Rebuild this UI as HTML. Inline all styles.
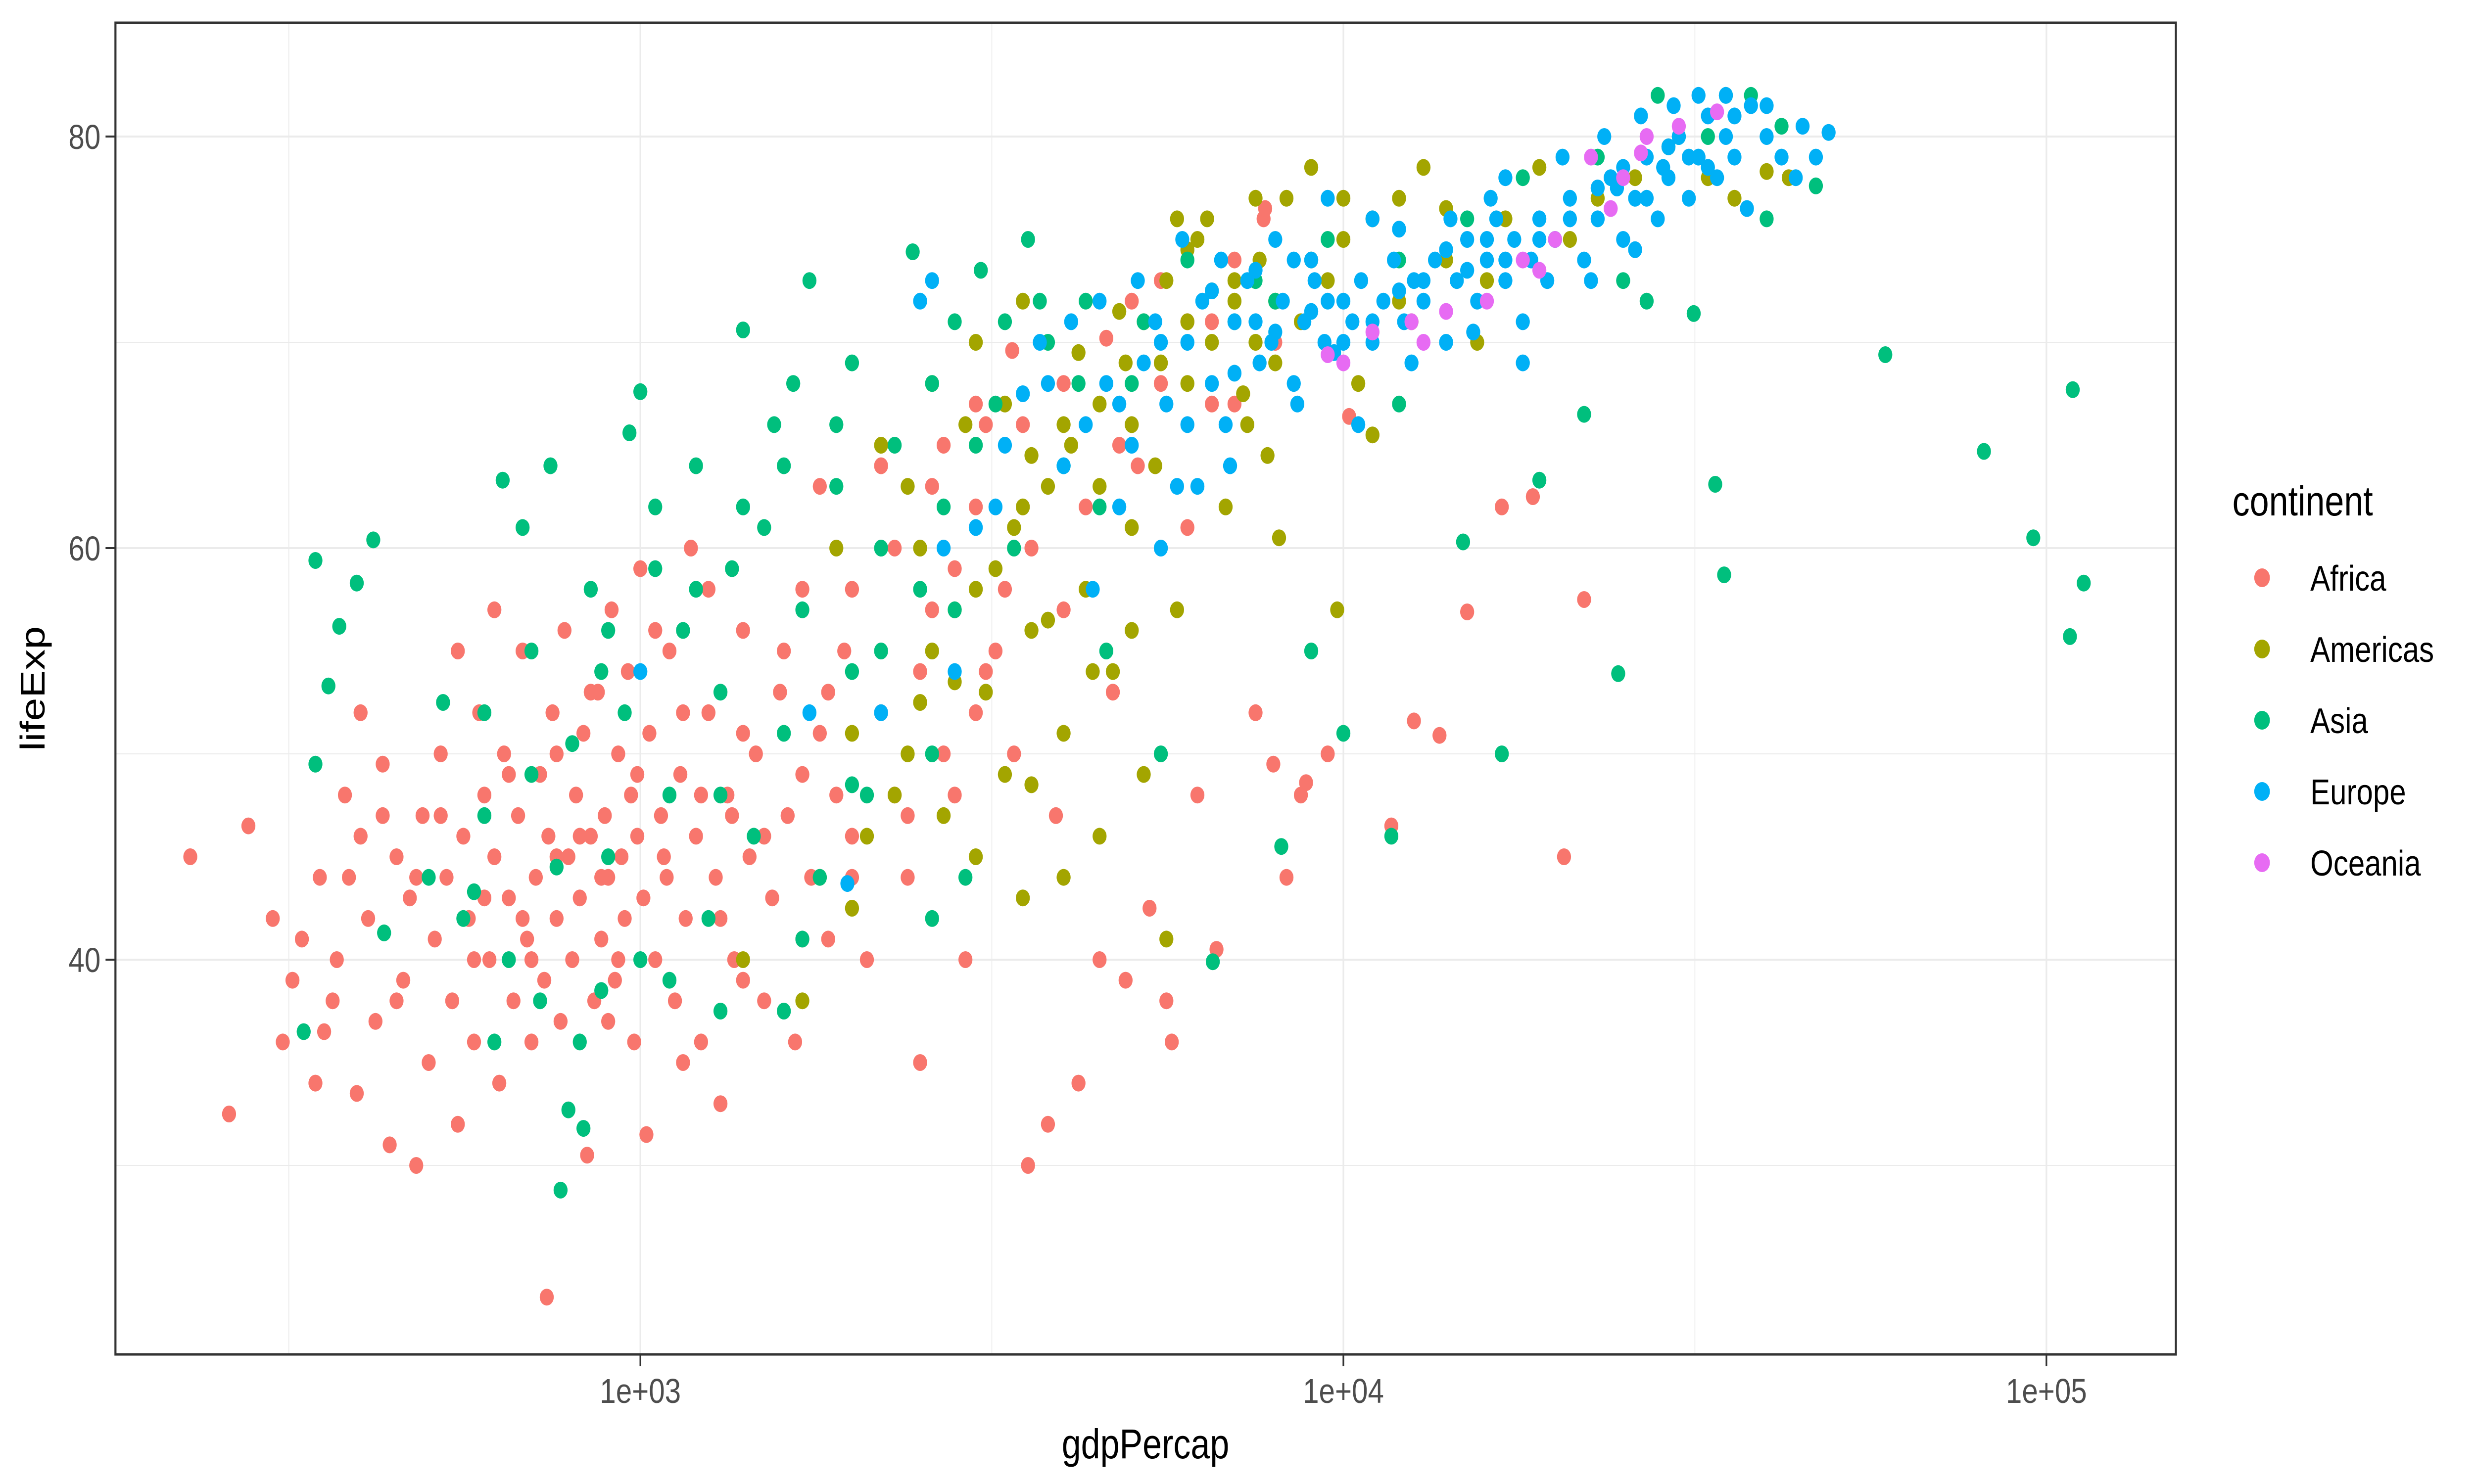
<!DOCTYPE html>
<html><head><meta charset="utf-8"><style>
html,body{margin:0;padding:0;background:#fff;overflow:hidden;width:100%;height:100%;}
svg{display:block;width:100vw;height:100vh;font-family:"Liberation Sans",Arial,sans-serif;}
</style></head><body>
<svg id="chart" viewBox="0 0 6000 3000" preserveAspectRatio="none" xmlns="http://www.w3.org/2000/svg">
<rect x="0" y="0" width="6000" height="3000" fill="#fff"/>
<g id="grid"></g>
<g id="points"></g>
<rect x="280" y="46" width="4997" height="2692" fill="none" stroke="#333" stroke-width="5"/>
<g id="axes"></g>
<text x="2778" y="2948" font-size="84" text-anchor="middle" fill="#000">gdpPercap</text>
<text transform="translate(108,1392) rotate(-90)" font-size="84" text-anchor="middle" fill="#000">lifeExp</text>
<g>
<text x="5414" y="1042" font-size="84" fill="#000">continent</text>
<g id="legendItems"></g>
</g>
</svg>
<script>
const continents = ["Africa","Americas","Asia","Europe","Oceania"];
const colors = ["#F8766D","#A3A500","#00BF7D","#00B0F6","#E76BF3"];
const xTicks = [1000,10000,100000];
const xTickLabels = ["1e+03","1e+04","1e+05"];
const xMinor = [316.2,3162,31623];
const yTicks = [40,60,80];
const yMinor = [30,50,70];

const africaGdp = [229,277,260,300,310,320,330,345,350,355,365,370,380,385,395,400,410,420,430,440,450,460,470,480,490,500,510,520,530,540,550,560,570,580,590,600,610,620,630,640,650,660,670,680,690,700,710,720,730,736,740,750,760,770,780,790,800,810,820,830,840,850,860,870,880,890,900,910,920,930,940,950,960,970,980,990,1000,1010,1020,1030,1050,1070,1090,1100,1120,1140,1160,1180,1200,1220,1250,1280,1300,1330,1360,1400,1430,1460,1500,1540,1580,1620,1660,1700,1750,1800,1850,1900,1950,2000,2100,2200,2300,2400,2500,2600,2700,2800,2900,3000,3100,3300,3500,3560,3800,3900,4200,4300,4500,4700,4900,5100,5300,5600,5700,6000,6200,6600,7000,7500,7700,8000,8300,8700,9500,10190,11700,12600,13700,15000,16800,18600,22000,20600,8850,7950,3380,4600,5000,5500,6000,7740,7000,6500,4000,3000,2700,2200,1800,
450,520,600,650,700,760,820,880,930,990,1080,1150,1220,1300,1400,1500,1600,1700,1850,2000,2300,2500,2800,3200,3600,4000,400,550,620,850,1050,1250,1350,760,680,580,480,430,900,1150,1400,1700,2000,2400,3000,3400,2600,3100,4800,5500,6500];
const africaLife = [45,46.5,32.5,42,36,39,41,34,44,36.5,38,40,48,44,33.5,46,42,37,49.5,31,45,39,43,30,47,35,41,50,44,38,32,46,42,36,52,48,40,45,34,50,43,38,47,55,41,36,44,49,39,23.6,46,52,42,37,56,45,40,48,43,51,30.5,46,38,53,41,47,44,57,39,50,45,42,54,48,36,46,59,43,31.5,51,40,47,44,55,38,49,42,60,46,36,52,44,33,48,40,56,45,50,38,43,53,47,36,58,44,51,41,48,55,46,40,52,60,44,35,57,50,48,40,62,54,58,66,30,32,47,34,62,40,53,39,64,42.5,38,36,61,48,40.5,67,52,76,70,44,48,50,66.4,46.5,51.6,50.9,56.9,62,62.5,57.5,45,48.6,49.5,69.6,70.2,72,73,71,76.5,74,67,68,67,65,64,63,
38,47,43,49,40,50,46,44,40,49,45,52,48,42,51,46,55,49,53,58,48,54,59,55,60,57,52,55,57,53,56,58,47,45,42,40,44,47,37,35,39,41,44,47,52,50,63,66,65,68,71];

const americasGdp = [1400,1700,1800,2000,2100,2300,2400,2500,2600,2700,2800,3000,3100,3200,3300,3400,3500,3600,3800,4000,4100,4300,4500,4700,4900,5000,5200,5400,5600,5800,6000,6200,6500,6800,7000,7300,7600,8000,8300,8700,9000,9500,10000,10500,11000,12000,13000,14000,15500,17000,19000,21000,23000,26000,29000,33000,36000,40000,43000,2200,2600,3000,3500,1900,2400,4500,5200,4000,3800,6000,7800,9800,8100,11000,5600,7200,2900,3600,4800,6400,12500,16000,
3000,3500,4000,4500,5000,5500,6000,6500,7000,7500,8000,9000,10000,12000,14000,2500,3300,4200,5800,7500,2000,2800,3600,4400,5000];
const americasLife = [40,38,44,42.5,46,48,50,52.5,55,47,57,45,53,59,49,61,43,56,63,51,65,58,67,54,69,61,71,64,73,57,68,75,70,62,72,66,74,69,77,71,78.5,73,75,68,76,72,78.5,74,70,76,78.5,75,77,78,79.5,78,77,78.3,78,65,68,70,72,60,63,46,49,44,56.5,74.5,64.5,57,60.5,65.5,41,67.5,66,64.5,71.5,76,71,73,
58,62,66,63,66,69,71,72.5,73,70,72,74,77,77,76.5,60,67,69.5,76,77,51,53.5,48.5,54,56];

const asiaGdp = [345,417,360,373,345,332,395,432,524,580,637,745,770,790,830,880,965,1000,600,650,700,720,760,800,820,850,900,950,1050,1100,1150,1200,1250,1300,1350,1400,1450,1500,1550,1600,1650,1700,1740,1800,1900,2000,2100,2200,2300,2440,2500,2600,2700,2800,2900,3050,3200,3400,3560,3800,4000,4300,4600,5000,5500,6000,6520,7000,8000,8160,9000,10000,11700,12000,14800,16800,19000,22000,24600,27000,31500,33800,34800,40000,47000,59000,81500,95800,109000,108000,113000,20000,25000,30000,35000,28000,38000,1000,560,620,680,880,1100,1300,1700,1600,2000,2600,
1200,1400,1600,1900,2200,2600,3000,3300,3700,4200,900,1050,700,600,500,1300,2000,2800,4500,5200,7500,9500,12000,15000,18000,23000,33000,42000];
const asiaLife = [59.4,60.4,53.3,56.2,49.5,36.5,58.3,41.3,52.5,43.3,63.3,64,28.8,32.7,31.8,38.5,65.6,67.6,47,40,55,38,44.5,50.5,36,58,45,52,62,48,56,64,42,53,59,70.6,46,61,66,51,68,57,73,44,63,69,48,55,65,74.4,58,50,62,71,44,73.5,67,60,75,70,64,72,55,68,50,74,39.9,71,72,45.5,55,51,46,67,60.3,50,63.3,66.5,53.9,72,71.4,63.1,58.7,76,77.6,69.4,64.7,60.5,67.7,55.7,58.3,75,73,80,82,82,82,40,42,36,61,54,39,37.5,41,37.5,48.5,42,
58,62,64,66,60,68,65,71,72,68,56,59,49,52,44,48,54,57,62,71,73,75,74,76,78,79,80,80.5];

const europeGdp = [4000,4300,4600,4800,5000,5200,5400,5600,5800,6000,6300,6500,6800,7000,7300,7600,7900,8200,8500,8800,9100,9400,9700,10000,10300,10600,11000,11400,11800,12200,12600,13000,13500,14000,14500,15000,15500,16000,16500,17000,17500,18000,18500,19000,19500,20000,21000,22000,23000,24000,25000,26000,27000,28000,29000,30000,31000,32000,33000,34000,35000,36000,38000,40000,42000,45000,49000,3000,3300,3500,2500,2600,2200,1970,1740,1000,2700,3200,3700,4100,4500,5100,5900,6700,7500,8000,9000,9500,12000,14200,16200,20500,23500,26500,29500,32000,18000,12500,8600,6900,5500,4400,2800,10500,15300,22500,26000,37500,44000,47000,17000,24500,28500,35000,11000,6200,
7000,8000,9000,10000,11000,12000,13000,14000,15000,16000,17000,19000,21000,23000,25000,27000,29000,31000,33000,36000,40000,5500,6500,7500,8500,9500,6000,4800,3800];
const europeLife = [64,66,68,62,65,69,71,67,63,70,72,68,66,71,73,69,70,72,68,71,73,70,69.5,72,71,73,70,72,74,71,73,72,74,70,73,75,72,74,76,73,75,71,74,76,73,75,77,74,76,78,75,77,79,76,78,80,77,79,81,78,80,79,81.5,80,79,80.5,80.2,61,65,67.5,72,73,52,43.7,52,54,60,62,70,71,72,73,75,74,71,75,74,77,75.5,76,77,79,80,81,81.5,82,69,69,67,64,60,58,54,66,70.5,73,74.5,76.5,78,79,78,77.5,78.5,82,76,63,
68.5,70.5,71.5,70,71,72.5,73,74.5,73.5,75,74,75,76,77.5,78.5,77,79.5,79,78.5,81,81.5,70,72.5,73.5,74,72,66,67,68];

const oceaniaGdp = [10000,11000,12500,14000,16000,18000,20000,22500,25000,27000,30000,34000,9500,13000,19000,24000,26500];
const oceaniaLife = [69,70.5,71,71.5,72,74,75,79,78,80,80.5,81.2,69.4,70,73.5,76.5,79.2];

const series = [[africaGdp,africaLife],[americasGdp,americasLife],[asiaGdp,asiaLife],[europeGdp,europeLife],[oceaniaGdp,oceaniaLife]];

const PL=280, PR=5277, PT=46, PB=2738;
function xs(g){ return 1553 + (Math.log10(g)-3)*1705; }
function ys(v){ return 1108 - (v-60)*41.6; }
const NS="http://www.w3.org/2000/svg";
function mk(tag, attrs, parent){ const e=document.createElementNS(NS,tag); for(const k in attrs) e.setAttribute(k,attrs[k]); parent.appendChild(e); return e; }

const grid=document.getElementById('grid');
xMinor.forEach(v=>{ const l=mk('line',{x1:xs(v),x2:xs(v),y1:PT,y2:PB,stroke:'#ebebeb','stroke-width':2},grid);

 });
yMinor.forEach(v=>{ const l=mk('line',{x1:PL,x2:PR,y1:ys(v),y2:ys(v),stroke:'#ebebeb','stroke-width':2},grid);

 });
xTicks.forEach(v=>{ const l=mk('line',{x1:xs(v),x2:xs(v),y1:PT,y2:PB,stroke:'#ebebeb','stroke-width':4},grid);

 });
yTicks.forEach(v=>{ const l=mk('line',{x1:PL,x2:PR,y1:ys(v),y2:ys(v),stroke:'#ebebeb','stroke-width':4},grid);

 });

const pts=document.getElementById('points');
series.forEach((s,i)=>{
  const g=mk('g',{},pts);
  
  
  s[0].forEach((gdp,j)=>{
    const c=mk('circle',{cx:xs(gdp).toFixed(1),cy:ys(s[1][j]).toFixed(1),r:17,fill:colors[i]},g);
    
    
  });
});

const axes=document.getElementById('axes');
xTicks.forEach((v,i)=>{
  const t=mk('line',{x1:xs(v),x2:xs(v),y1:PB,y2:PB+24,stroke:'#333','stroke-width':4},axes);
  
  
  const tx=mk('text',{x:xs(v),y:2836,'font-size':70,'text-anchor':'middle',fill:'#4d4d4d'},axes);
  tx.textContent=xTickLabels[i];
  
  
});
yTicks.forEach(v=>{
  const t=mk('line',{x1:PL-24,x2:PL,y1:ys(v),y2:ys(v),stroke:'#333','stroke-width':4},axes);
  
  
  const tx=mk('text',{x:PL-36,y:ys(v)+25,'font-size':70,'text-anchor':'end',fill:'#4d4d4d'},axes);
  tx.textContent=String(v);
  
  
});

const li=document.getElementById('legendItems');
continents.forEach((c,i)=>{
  const y=1168+i*144;
  const g=mk('g',{},li);
  
  
  mk('circle',{cx:5486,cy:y,r:19,fill:colors[i]},g);
  const t=mk('text',{x:5603,y:y+26,'font-size':72,fill:'#000'},g);
  t.textContent=c;
});
</script>
</body></html>
